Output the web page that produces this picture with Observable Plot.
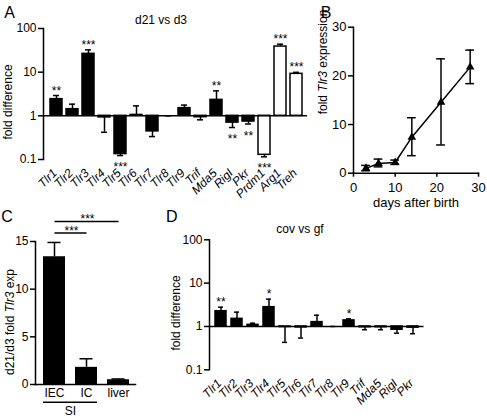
<!DOCTYPE html>
<html><head><meta charset="utf-8">
<script src="https://cdn.jsdelivr.net/npm/d3@7"></script>
<script src="https://cdn.jsdelivr.net/npm/@observablehq/plot@0.6"></script>
<style>
body{margin:0;background:#fff;}
#fig{position:relative;width:487px;height:419px;overflow:hidden;font-family:"Liberation Sans",Arial,sans-serif;color:#000;background:#fff;}
.panel{position:absolute;}
.lbl{position:absolute;white-space:nowrap;font-size:12px;line-height:12px;transform:translate(-50%,-50%);}
.big{font-size:16px;line-height:16px;}
.rot{transform:translate(-50%,-50%) rotate(-90deg);}
</style></head><body><div id="fig"></div>
<script>
// ---------- Panel A: d21 vs d3 ----------
const genesA = ["Tlr1","Tlr2","Tlr3","Tlr4","Tlr5","Tlr6","Tlr7","Tlr8","Tlr9","Trif","Mda5","RigI","Pkr","Prdm1","Arg1","Treh"];
const foldA  = [2.41, 1.42, 26.3, 0.92, 0.133, 1.05, 0.44, 1.0, 1.5, 0.93, 2.32, 0.70, 0.74, 0.128, 38.6, 9.15];
const errA   = [2.92, 1.85, 32.4, 0.42, 0.123, 1.69, 0.335, 1.0, 1.76, 0.81, 3.73, 0.54, 0.65, 0.115, 43.7, 9.9];
const starsA = ["**","","***","","***","","","","","","**","**","**","***","***","***"];
const openA  = ["Prdm1","Arg1","Treh"];
const logTicks = [0.1, 1, 10, 100];

// ---------- Panel B: time course ----------
const daysB = [3, 6, 10, 14, 21, 28];
const meanB = [1.0, 2.0, 2.2, 7.4, 14.6, 21.8];
const loB   = [0.5, 1.3, 1.8, 3.6, 5.8, 18.4];
const hiB   = [1.6, 2.9, 2.7, 11.4, 23.5, 25.3];
const ticksB = [0, 10, 20, 30];

// ---------- Panel C: tissues ----------
const tissuesC = ["IEC","IC","liver"];
const foldC = [13.4, 1.8, 0.5];
const errC  = [14.9, 2.7, 0.58];
const ticksC = [0, 5, 10, 15];
const bracketFromC = ["IEC","IEC"];
const bracketToC   = ["liver","IC"];
const bracketSigC  = ["***","***"];
const groupC = {from: "IEC", to: "IC", label: "SI"};

// ---------- Panel D: cov vs gf ----------
const genesD = ["Tlr1","Tlr2","Tlr3","Tlr4","Tlr5","Tlr6","Tlr7","Tlr8","Tlr9","Trif","Mda5","RigI","Pkr"];
const foldD  = [2.25, 1.5, 1.09, 2.79, 0.97, 0.95, 1.26, 1.0, 1.38, 0.96, 0.96, 0.84, 0.94];
const errD   = [2.79, 2.14, 1.19, 4.27, 0.43, 0.54, 1.82, 1.0, 1.5, 0.84, 0.84, 0.70, 0.68];
const starsD = ["**","","","*","","","","","*","","","",""];

const FONT = "Liberation Sans, Arial, sans-serif";
const fig = document.getElementById("fig");
function place(node, left, top) {
  node.classList.add("panel");
  node.style.left = left + "px";
  node.style.top = top + "px";
  fig.appendChild(node);
}
function label(html, x, y, cls = "", fs) {
  const d = document.createElement("div");
  d.className = "lbl " + cls;
  d.style.left = x + "px";
  d.style.top = y + "px";
  if (fs) { d.style.fontSize = fs + "px"; d.style.lineHeight = fs + "px"; }
  d.innerHTML = html;
  fig.appendChild(d);
}
const baseStyle = (fs) => ({fontFamily: FONT, fontSize: fs + "px", background: "transparent", color: "black"});

function foldPlot(genes, fold, err, stars, open, opt) {
  const data = genes.map((g, i) => ({gene: g, fold: fold[i], err: err[i], star: stars[i], open: open.includes(g)}));
  return Plot.plot({
    width: opt.width, height: opt.height,
    marginLeft: opt.ml, marginRight: opt.mr, marginTop: opt.mt, marginBottom: opt.mb,
    style: baseStyle(12),
    x: {domain: genes, range: opt.xr, paddingInner: opt.pi, paddingOuter: opt.pi / 2, label: null},
    y: {type: "log", domain: [0.1, 100], label: null},
    color: {type: "identity"},
    marks: [
      Plot.frame({anchor: "left", strokeWidth: 1.5}),
      Plot.axisY({ticks: logTicks, tickFormat: d => String(d), tickSize: 5, tickPadding: 2, strokeWidth: 1.5, label: null}),
      Plot.axisX({tickSize: 0, tickPadding: 6, tickRotate: -45, fontStyle: "italic", dx: -1.5, dy: 5.5, label: null}),
      Plot.ruleX(data, {x: "gene", y1: "fold", y2: "err", strokeWidth: 1.5}),
      Plot.tickY(data, {x: "gene", y: "err", strokeWidth: 1.5, insetLeft: 3, insetRight: 3}),
      Plot.barY(data, {x: "gene", y1: 1, y2: "fold", fill: d => d.open ? "white" : "black", stroke: "black", strokeWidth: 1.5}),
      Plot.ruleY([1], {strokeWidth: 1.5}),
      Plot.text(data.filter(d => d.star && d.fold >= 1), {x: "gene", y: "err", text: "star", lineAnchor: "bottom", dy: -1}),
      Plot.text(data.filter(d => d.star && d.fold < 1), {x: "gene", y: "err", text: "star", lineAnchor: "bottom", dy: 15.5})
    ]
  });
}

// Panel A
place(foldPlot(genesA, foldA, errA, starsA, openA,
  {width: 310, height: 210, ml: 43, mr: 3, mt: 28, mb: 51, xr: [45, 307], pi: 0.28}), 0, 0);

// Panel D
place(foldPlot(genesD, foldD, errD, starsD, [],
  {width: 317, height: 209, ml: 39, mr: 63.5, mt: 29.3, mb: 49.7, xr: [39, 253.5], pi: 0.3}), 170, 210);

// Panel B
const dataB = daysB.map((d, i) => ({day: d, mean: meanB[i], lo: loB[i], hi: hiB[i]}));
const capB = 1.05;
place(Plot.plot({
  width: 177, height: 210, marginLeft: 43, marginRight: 9, marginTop: 26.7, marginBottom: 37.3,
  style: baseStyle(13),
  x: {domain: [0, 30], label: null},
  y: {domain: [0, 30], label: null},
  marks: [
    Plot.frame({anchor: "left", strokeWidth: 1.5}),
    Plot.frame({anchor: "bottom", strokeWidth: 1.5}),
    Plot.axisY({ticks: ticksB, tickSize: 5, tickPadding: 2, strokeWidth: 1.5, label: null}),
    Plot.axisX({ticks: ticksB, tickSize: 4, tickPadding: 6, strokeWidth: 1.5, label: null}),
    Plot.ruleX(dataB, {x: "day", y1: "lo", y2: "hi", strokeWidth: 1.5}),
    Plot.ruleY(dataB, {y: "lo", x1: d => d.day - capB, x2: d => d.day + capB, strokeWidth: 1.5}),
    Plot.ruleY(dataB, {y: "hi", x1: d => d.day - capB, x2: d => d.day + capB, strokeWidth: 1.5}),
    Plot.line(dataB, {x: "day", y: "mean", strokeWidth: 1.5}),
    Plot.dot(dataB, {x: "day", y: "mean", symbol: "triangle", fill: "black", stroke: "none", r: 3.2})
  ]
}), 310, 0);

// Panel C
const dataC = tissuesC.map((t, i) => ({t, fold: foldC[i], err: errC[i]}));
const bracketsC = bracketFromC.map((f, i) => ({from: f, to: bracketToC[i], sig: bracketSigC[i]}));
const stepC = 32;
const levelsC = [17.1, 15.9];
const bracketMarks = bracketsC.flatMap((b, i) => {
  const span = tissuesC.indexOf(b.to) - tissuesC.indexOf(b.from);
  return [
    Plot.link([b], {x1: "from", x2: "to", y1: () => levelsC[i], y2: () => levelsC[i], strokeWidth: 1.5}),
    Plot.text([b], {x: "from", y: () => levelsC[i], text: "sig", lineAnchor: "bottom", dy: 2, dx: span * stepC / 2 + 1})
  ];
});
const spanG = tissuesC.indexOf(groupC.to) - tissuesC.indexOf(groupC.from);
place(Plot.plot({
  width: 170, height: 209, marginLeft: 35, marginRight: 35, marginTop: 31, marginBottom: 35,
  style: baseStyle(12),
  x: {domain: tissuesC, range: [38, 134], paddingInner: 0.31, paddingOuter: 0.155, label: null},
  y: {domain: [0, 15], label: null},
  marks: [
    Plot.frame({anchor: "left", strokeWidth: 1.5}),
    Plot.frame({anchor: "bottom", strokeWidth: 1.5}),
    Plot.axisY({ticks: ticksC, tickSize: 5, tickPadding: 2, strokeWidth: 1.5, label: null}),
    Plot.axisX({tickSize: 0, tickPadding: 4, label: null}),
    Plot.ruleX(dataC, {x: "t", y1: "fold", y2: "err", strokeWidth: 1.5}),
    Plot.tickY(dataC, {x: "t", y: "err", strokeWidth: 1.5, insetLeft: 4.5, insetRight: 4.5}),
    Plot.barY(dataC, {x: "t", y: "fold", fill: "black"}),
    ...bracketMarks,
    Plot.ruleY([groupC], {x1: "from", x2: "to", y: () => -1.86, strokeWidth: 1.5}),
    Plot.text([groupC], {x: "from", y: () => -2.8, text: "label", dx: spanG * stepC / 2})
  ]
}), 0, 210);

// Titles, panel letters and axis titles
label("A", 9.5, 13, "big");
label("B", 326, 12.5, "big");
label("C", 7, 216.7, "big");
label("D", 171.7, 216.7, "big");
label("d21 vs d3", 161, 20);
label("cov vs gf", 300, 229);
label("fold difference", 8, 102, "rot");
label("fold <i>Tlr3</i> expression", 323, 62, "rot");
label("d21/d3 fold <i>Tlr3</i> exp", 10, 322, "rot");
label("fold difference", 176, 313, "rot");
label("days after birth", 416, 202, "", 13);
</script>
</body></html>
